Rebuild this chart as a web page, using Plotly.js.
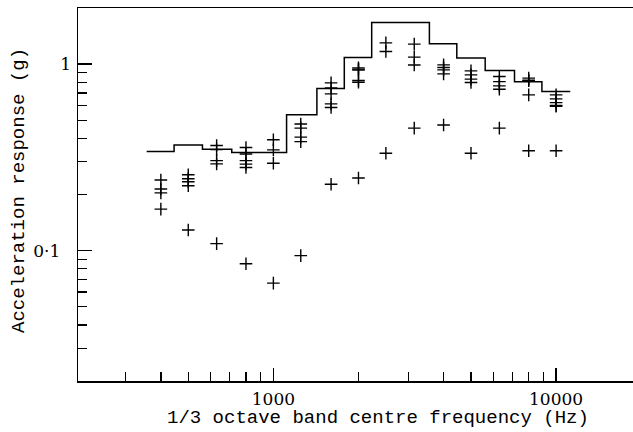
<!DOCTYPE html>
<html>
<head>
<meta charset="utf-8">
<script src="https://cdn.plot.ly/plotly-3.0.1.min.js"></script>
<style>
  html, body { margin: 0; padding: 0; background: #fff; overflow: hidden; }
  #chart { width: 633px; height: 432px; }
</style>
</head>
<body>
<div id="chart"></div>
<script>
// 1/3 octave band centre frequencies (Hz)
const bands = [400, 500, 630, 800, 1000, 1250, 1600, 2000, 2500, 3150, 4000, 5000, 6300, 8000, 10000];

// Stepped envelope level per band (g)
const envelope = [0.340, 0.369, 0.350, 0.336, 0.336, 0.535, 0.740, 1.085, 1.67, 1.67, 1.285, 1.08, 0.924, 0.804, 0.713];

// Measured responses (g), one value per band or null
const run1 = [0.239, 0.255, 0.366, 0.357, 0.393, 0.478, 0.794, 0.955, 1.30, 1.28, 0.991, 0.920, 0.858, 0.841, 0.684];
const run2 = [0.214, 0.243, 0.348, 0.330, 0.347, 0.454, 0.746, 0.940, 1.17, 1.09, 0.959, 0.876, 0.806, 0.820, 0.651];
const run3 = [0.204, 0.234, 0.304, 0.304, 0.294, 0.406, 0.693, 0.930, null, 0.99, 0.932, 0.831, 0.765, 0.814, 0.622];
const run4 = [null, 0.223, 0.292, 0.291, null, 0.384, 0.612, 0.817, null, null, 0.887, 0.797, 0.734, 0.684, 0.600];
const run5 = [null, null, null, 0.279, null, null, 0.585, 0.800, null, null, null, null, null, null, 0.595];
const runLow = [0.167, 0.129, 0.109, 0.085, 0.067, 0.094, 0.227, 0.245, 0.333, 0.454, 0.472, 0.333, 0.454, 0.343, 0.343];

// Axis tick labels
const xMajor = [1000, 10000];
const xMajorText = ['1000', '10000'];
const xMinor = [300, 400, 500, 600, 700, 800, 900, 2000, 3000, 4000, 5000, 6000, 7000, 8000, 9000];
const yMajor = [0.1, 1];
const yMajorText = ['0·1\u00A0\u00A0', '1'];
const yMinor = [0.03, 0.04, 0.05, 0.06, 0.07, 0.08, 0.09, 0.2, 0.3, 0.4, 0.5, 0.6, 0.7, 0.8, 0.9];

const xTitle = '1/3 octave band centre frequency (Hz)';
const yTitle = 'Acceleration response (g)';

// Band edges for the stepped envelope (lower edge of each band + last upper edge)
const sixth = Math.pow(2, 1 / 6);
const stepX = bands.map(f => f / sixth).concat([bands[bands.length - 1] * sixth]);
const stepY = envelope.concat([envelope[envelope.length - 1]]);

const markerStyle = {
  symbol: 'cross-thin',
  size: 9,
  color: '#000',
  line: { color: '#000', width: 1.4 }
};

const runs = [run1, run2, run3, run4, run5, runLow];
const traces = runs.map(r => ({
  x: bands, y: r, type: 'scatter', mode: 'markers',
  marker: markerStyle, hoverinfo: 'skip', showlegend: false
}));
traces.push({
  x: stepX, y: stepY, type: 'scatter', mode: 'lines',
  line: { shape: 'hv', color: '#000', width: 1.5 },
  hoverinfo: 'skip', showlegend: false
});

const titleFont = { family: 'Liberation Mono', size: 19, color: '#000' };

const layout = {
  width: 633, height: 432,
  margin: { l: 78, r: 0, t: 8, b: 51 },
  paper_bgcolor: '#fff', plot_bgcolor: '#fff',
  showlegend: false,
  xaxis: {
    type: 'log',
    range: [2.309, 4.272],
    showgrid: false, zeroline: false,
    showline: true, linecolor: '#000', linewidth: 1.5, mirror: true,
    ticks: 'inside', ticklen: 13, tickwidth: 1.3, tickcolor: '#000',
    tickmode: 'array', tickvals: xMajor, ticktext: xMajorText,
    tickfont: { family: 'DejaVu Serif', size: 17, color: '#000' },
    ticklabelstandoff: 2,
    minor: { tickmode: 'array', tickvals: xMinor, ticks: 'inside', ticklen: 9, tickwidth: 1.3, tickcolor: '#000', showgrid: false },
    automargin: false
  },
  yaxis: {
    type: 'log',
    range: [Math.log10(0.02), Math.log10(2)],
    showgrid: false, zeroline: false,
    showline: true, linecolor: '#000', linewidth: 1.5, mirror: false,
    ticks: 'inside', ticklen: 14, tickwidth: 1.3, tickcolor: '#000',
    tickmode: 'array', tickvals: yMajor, ticktext: yMajorText,
    tickfont: { family: 'DejaVu Serif', size: 17, color: '#000' },
    ticklabelstandoff: 2,
    minor: { tickmode: 'array', tickvals: yMinor, ticks: 'inside', ticklen: 9, tickwidth: 1.3, tickcolor: '#000', showgrid: false },
    automargin: false
  },
  annotations: [
    {
      text: xTitle, xref: 'paper', yref: 'paper',
      x: (378 - 78) / 555, y: -(418 - 381) / 373,
      xanchor: 'center', yanchor: 'middle', showarrow: false,
      font: titleFont
    },
    {
      text: yTitle, xref: 'paper', yref: 'paper',
      x: -(78 - 19) / 555, y: (381 - 191) / 373,
      xanchor: 'center', yanchor: 'middle', showarrow: false, textangle: -90,
      font: titleFont
    }
  ]
};

Plotly.newPlot('chart', traces, layout, { staticPlot: true, displayModeBar: false });
</script>
</body>
</html>
